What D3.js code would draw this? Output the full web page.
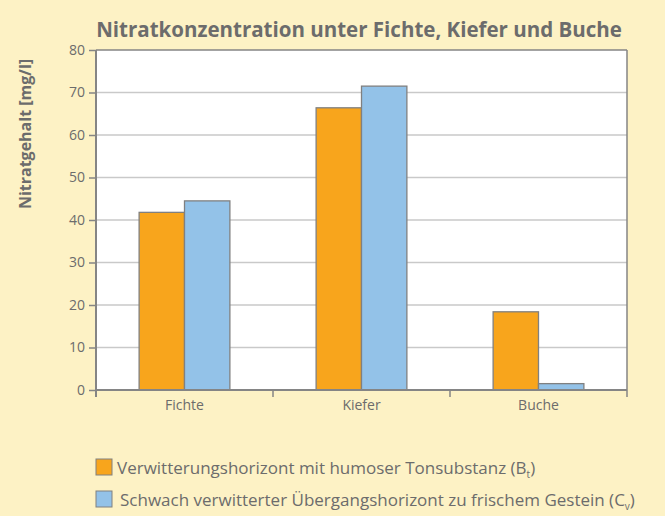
<!DOCTYPE html>
<html>
<head>
<meta charset="utf-8">
<script src="https://cdn.jsdelivr.net/npm/d3@7"></script>
<style>
  html, body { margin: 0; padding: 0; background: #fdf2c5; }
  svg { display: block; font-family: "Open Sans", "DejaVu Sans", sans-serif; }
</style>
</head>
<body>
<script>
const categories = ["Fichte", "Kiefer", "Buche"];
const seriesKeys = ["bt", "cv"];
const btValues = [41.8, 66.4, 18.4];
const cvValues = [44.5, 71.5, 1.5];
const yTicks = [0, 10, 20, 30, 40, 50, 60, 70, 80];
const colors = { bt: "#f8a51c", cv: "#93c2e8" };

const width = 665, height = 516;
const margin = { top: 50, right: 38, bottom: 126, left: 96 };
const textColor = "#6c6c6c";
const axisColor = "#858585";
const font = '"Open Sans", "DejaVu Sans", sans-serif';

const data = categories.map((c, i) => ({ cat: c, bt: btValues[i], cv: cvValues[i] }));

const svg = d3.select("body").append("svg")
    .attr("width", width)
    .attr("height", height);

svg.append("rect").attr("width", width).attr("height", height).attr("fill", "#fdf2c5");

const x0 = d3.scaleBand()
    .domain(categories)
    .range([margin.left, width - margin.right])
    .paddingInner(0)
    .paddingOuter(0);

const x1 = d3.scaleBand()
    .domain(seriesKeys)
    .range([0, x0.bandwidth()])
    .paddingInner(0)
    .paddingOuter(0.95);

const y = d3.scaleLinear()
    .domain([0, 80])
    .range([height - margin.bottom, margin.top]);

// plot background
svg.append("rect")
    .attr("x", margin.left)
    .attr("y", margin.top)
    .attr("width", width - margin.right - margin.left)
    .attr("height", y(0) - margin.top)
    .attr("fill", "#ffffff");

// gridlines
svg.append("g")
    .selectAll("line")
    .data(yTicks.filter(d => d > 0 && d < 80))
    .enter()
    .append("line")
    .attr("x1", margin.left)
    .attr("x2", width - margin.right)
    .attr("y1", d => y(d))
    .attr("y2", d => y(d))
    .attr("stroke", "#c9c9c9")
    .attr("stroke-width", 1.5);

// bars
svg.append("g")
    .selectAll("g")
    .data(data)
    .enter()
    .append("g")
    .attr("transform", d => `translate(${x0(d.cat)},0)`)
    .selectAll("rect")
    .data(d => seriesKeys.map(k => ({ key: k, value: d[k] })))
    .enter()
    .append("rect")
    .attr("x", d => x1(d.key))
    .attr("y", d => y(d.value))
    .attr("width", x1.bandwidth())
    .attr("height", d => y(0) - y(d.value))
    .attr("fill", d => colors[d.key])
    .attr("stroke", "#808080")
    .attr("stroke-width", 1.3);

// frame top and right
svg.append("line")
    .attr("x1", margin.left).attr("x2", width - margin.right)
    .attr("y1", margin.top).attr("y2", margin.top)
    .attr("stroke", axisColor).attr("stroke-width", 1.5);
svg.append("line")
    .attr("x1", width - margin.right).attr("x2", width - margin.right)
    .attr("y1", margin.top).attr("y2", y(0))
    .attr("stroke", axisColor).attr("stroke-width", 1.5);

// y axis
const yAxis = d3.axisLeft(y)
    .tickValues(yTicks)
    .tickSize(7)
    .tickPadding(4);

const gy = svg.append("g")
    .attr("transform", `translate(${margin.left},0)`)
    .call(yAxis)
    .attr("font-family", font);
gy.select(".domain").remove();
gy.append("line")
    .attr("x1", 0).attr("x2", 0)
    .attr("y1", margin.top).attr("y2", y(0) + 7)
    .attr("stroke", axisColor).attr("stroke-width", 2);
gy.selectAll(".tick line").attr("stroke", axisColor).attr("stroke-width", 1.5);
gy.selectAll(".tick text")
    .attr("fill", textColor)
    .style("font-size", "14px");

// x axis
const xAxis = d3.axisBottom(x0).tickSize(0).tickPadding(10);
const gx = svg.append("g")
    .attr("transform", `translate(0,${y(0)})`)
    .call(xAxis)
    .attr("font-family", font);
gx.select(".domain").remove();
gx.append("line")
    .attr("x1", margin.left).attr("x2", width - margin.right)
    .attr("y1", 0).attr("y2", 0)
    .attr("stroke", axisColor).attr("stroke-width", 2);
gx.selectAll(".tick text")
    .attr("fill", textColor)
    .style("font-size", "14px");

// category separators
const seps = categories.map(c => x0(c)).concat([width - margin.right]).slice(1);
gx.selectAll(".sep")
    .data(seps)
    .enter()
    .append("line")
    .attr("x1", d => d).attr("x2", d => d)
    .attr("y1", 0).attr("y2", 7)
    .attr("stroke", axisColor).attr("stroke-width", 1.5);

// title
svg.append("text")
    .attr("x", 359)
    .attr("y", 37)
    .attr("text-anchor", "middle")
    .attr("fill", textColor)
    .style("font-weight", "bold")
    .style("font-size", "20.5px")
    .text("Nitratkonzentration unter Fichte, Kiefer und Buche");

// y label
svg.append("text")
    .attr("transform", `translate(31,134) rotate(-90)`)
    .attr("text-anchor", "middle")
    .attr("fill", textColor)
    .style("font-weight", "bold")
    .style("font-size", "16px")
    .text("Nitratgehalt [mg/l]");

// legend
const legend = svg.append("g");
const legendItems = [
    { key: "bt", text: "Verwitterungshorizont mit humoser Tonsubstanz (B", sub: "t" },
    { key: "cv", text: "Schwach verwitterter Übergangshorizont zu frischem Gestein (C", sub: "v" }
];
const li = legend.selectAll("g")
    .data(legendItems)
    .enter()
    .append("g")
    .attr("transform", (d, i) => `translate(96,${459 + i * 32})`);
li.append("rect")
    .attr("width", 16).attr("height", 16)
    .attr("fill", d => colors[d.key])
    .attr("stroke", "#808080")
    .attr("stroke-width", 1);
const lt = li.append("text")
    .attr("x", (d, i) => i === 0 ? 21 : 24)
    .attr("y", 15)
    .attr("fill", textColor)
    .style("font-size", "17px");
lt.append("tspan").text(d => d.text);
lt.append("tspan").attr("dy", 4).style("font-size", "10px").text(d => d.sub);
lt.append("tspan").attr("dy", -4).text(")");
</script>
</body>
</html>
